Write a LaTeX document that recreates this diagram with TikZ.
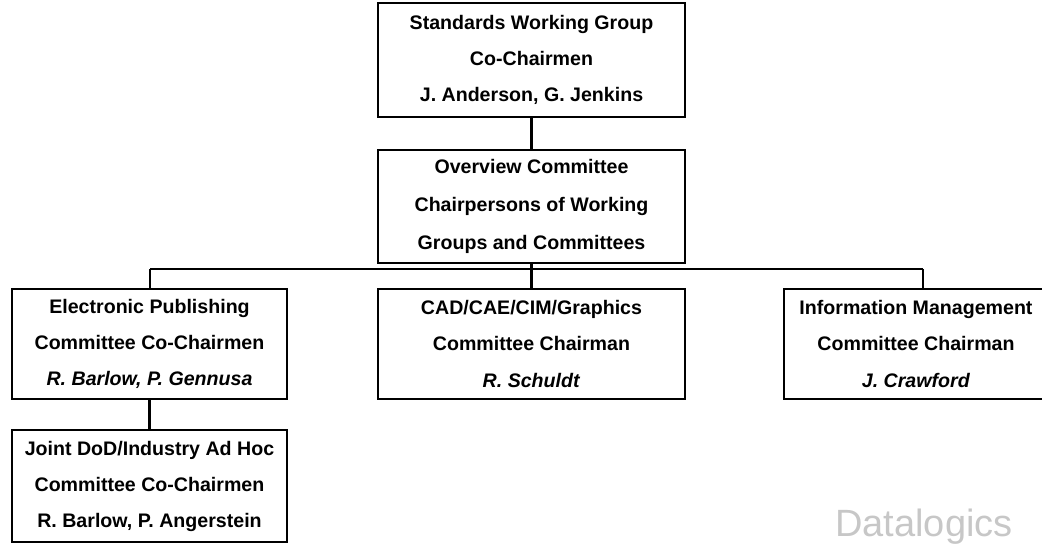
\documentclass[tikz,border=0pt]{standalone}
\usepackage{fontspec}
\setmainfont{Liberation Sans}
\usetikzlibrary{positioning}

\begin{document}
\begin{tikzpicture}[
        x=0.5pt, y=-0.5pt,
        font=\fontsize{9.8}{18}\selectfont\bfseries,
        box/.style={rectangle, draw, line width=1.1pt, align=center, inner sep=0pt,
                    minimum height=55pt},
        wide/.style={box, minimum width=153.5pt},
        narrow/.style={box, minimum width=137.5pt},
        link/.style={line width=1.1pt},
    ]
        \useasboundingbox (0,0) rectangle (1042,544);

        % top of the tree
        \node[wide, minimum height=57pt] (swg) at (531.5,60)
            {Standards Working Group\\Co-Chairmen\\J. Anderson, G. Jenkins};
        \node[wide, minimum height=56.5pt] (ovc) at (531.5,206.5)
            {Overview Committee\\[1pt]Chairpersons of Working\\[1pt]Groups and Committees};

        % committees
        \node[narrow] (epc) at (149.5,344)
            {Electronic Publishing\\Committee Co-Chairmen\\\textit{R. Barlow, P. Gennusa}};
        \node[wide] (cad) at (531.5,344)
            {CAD/CAE/CIM/Graphics\\Committee Chairman\\\textit{R. Schuldt}};
        \node[box, minimum width=132pt] (imc) at (916,344)
            {Information Management\\Committee Chairman\\\textit{J. Crawford}};
        \node[narrow, minimum height=56pt] (jdc) at (149.5,486)
            {Joint DoD/Industry Ad Hoc\\Committee Co-Chairmen\\R. Barlow, P. Angerstein};

        \node[font=\fontsize{19}{19}\selectfont, text=black!22] (logo) at (924,527) {Datalogics};

        \coordinate (busL) at (150,269);
        \coordinate (busR) at (923,269);

        \draw[link] (swg) -- (ovc);
        \draw[link] (ovc) -- (cad);
        \draw[link] (busL) -- (busR);
        \draw[link] (busL) -- (busL |- epc.north);
        \draw[link] (busR) -- (busR |- imc.north);
        \draw[link] (epc) -- (jdc);
    \end{tikzpicture}
\end{document}
